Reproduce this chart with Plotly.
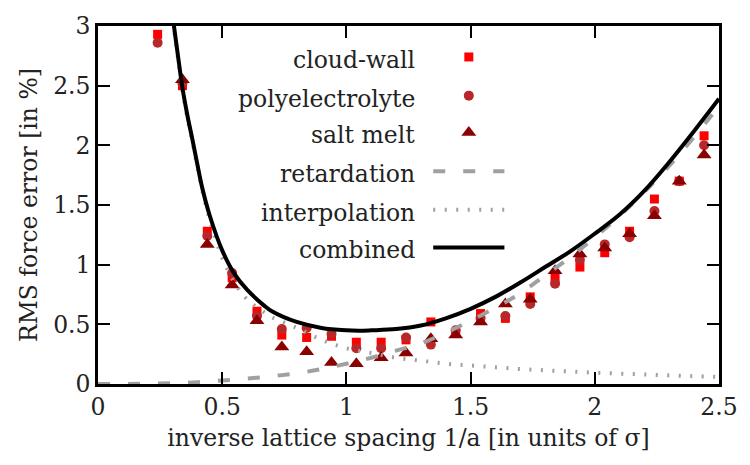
import plotly.graph_objects as go

# Simulated RMS force errors for three test systems
x_sim = [0.24, 0.34, 0.44, 0.54, 0.64, 0.74, 0.84, 0.94, 1.04, 1.14, 1.24, 1.34,
         1.44, 1.54, 1.64, 1.74, 1.84, 1.94, 2.04, 2.14, 2.24, 2.34, 2.44]
cloud_wall = [2.93, 2.50, 1.28, 0.89, 0.61, 0.41, 0.39, 0.40, 0.35, 0.35, 0.37, 0.52,
              0.43, 0.59, 0.55, 0.73, 0.89, 0.98, 1.10, 1.28, 1.55, 1.70, 2.08]
polyelectrolyte = [2.86, 2.52, 1.24, 0.93, 0.57, 0.46, 0.47, 0.42, 0.30, 0.30, 0.39, 0.33,
                   0.45, 0.55, 0.57, 0.67, 0.84, 1.04, 1.17, 1.23, 1.45, 1.70, 2.00]
salt_melt = [None, 2.55, 1.17, 0.83, 0.53, 0.31, 0.27, 0.18, 0.17, 0.22, 0.26, 0.38,
             0.41, 0.52, 0.67, 0.71, 0.95, 1.09, 1.14, 1.26, 1.41, 1.70, 1.92]

# Error estimates (sampled curves)
ret_x = [0.0, 0.1, 0.2, 0.3, 0.4, 0.5, 0.6, 0.7, 0.8, 0.9, 1.0, 1.1, 1.2, 1.3,
         1.4, 1.5, 1.6, 1.7, 1.8, 1.9, 2.0, 2.1, 2.2, 2.3, 2.4, 2.5]
ret_y = [0.0, 0.0, 0.002, 0.006, 0.015, 0.03, 0.045, 0.065, 0.09, 0.125, 0.17, 0.22,
         0.28, 0.34, 0.43, 0.53, 0.64, 0.76, 0.91, 1.06, 1.23, 1.41, 1.61, 1.83, 2.07, 2.33]

interp_x = [0.29, 0.30, 0.32, 0.34, 0.36, 0.38, 0.40, 0.42, 0.45, 0.50, 0.55, 0.60,
            0.67, 0.70, 0.80, 0.90, 1.00, 1.10, 1.20, 1.30, 1.40, 1.50, 1.60, 1.70,
            1.80, 1.90, 2.00, 2.10, 2.20, 2.30, 2.40, 2.50]
interp_y = [3.23, 3.07, 2.76, 2.46, 2.23, 2.03, 1.82, 1.62, 1.38, 1.06, 0.85, 0.71,
            0.60, 0.56, 0.47, 0.37, 0.30, 0.26, 0.22, 0.195, 0.17, 0.155, 0.14, 0.125,
            0.115, 0.105, 0.095, 0.087, 0.08, 0.072, 0.065, 0.06]

comb_x = [0.29, 0.30, 0.32, 0.34, 0.36, 0.38, 0.40, 0.42, 0.45, 0.50, 0.55, 0.60,
          0.67, 0.70, 0.80, 0.90, 1.00, 1.05, 1.10, 1.20, 1.30, 1.40, 1.50, 1.60,
          1.70, 1.80, 1.90, 2.00, 2.10, 2.20, 2.30, 2.40, 2.50]
comb_y = [3.25, 3.09, 2.78, 2.48, 2.25, 2.05, 1.84, 1.64, 1.41, 1.12, 0.92, 0.79,
          0.655, 0.61, 0.52, 0.47, 0.45, 0.447, 0.45, 0.46, 0.49, 0.55, 0.63, 0.73,
          0.85, 0.98, 1.11, 1.26, 1.42, 1.62, 1.86, 2.12, 2.39]

x_ticks = [0, 0.5, 1, 1.5, 2, 2.5]
y_ticks = [0, 0.5, 1, 1.5, 2, 2.5, 3]

FONT = "DejaVu Serif"
FSIZE = 23.5
TXT = "#222222"
RED = "#ff0000"
BROWN = "#b8282a"
DARKRED = "#8b0000"
GRAY = "#a0a0a0"

fig = go.Figure()

fig.add_trace(go.Scatter(x=x_sim, y=cloud_wall, mode="markers",
                         marker=dict(symbol="square", size=9, color=RED)))
fig.add_trace(go.Scatter(x=x_sim, y=polyelectrolyte, mode="markers",
                         marker=dict(symbol="circle", size=10, color=BROWN)))
fig.add_trace(go.Scatter(x=x_sim, y=salt_melt, mode="markers",
                         marker=dict(symbol="triangle-up", size=13, color=DARKRED)))
fig.add_trace(go.Scatter(x=ret_x, y=ret_y, mode="lines", line_shape="spline",
                         line=dict(color=GRAY, width=4, dash="12px,18px")))
fig.add_trace(go.Scatter(x=interp_x, y=interp_y, mode="lines", line_shape="spline",
                         line=dict(color=GRAY, width=4, dash="2px,9.5px")))
fig.add_trace(go.Scatter(x=comb_x, y=comb_y, mode="lines", line_shape="spline",
                         line=dict(color="black", width=4)))

# Legend key drawn in a pixel-like overlay frame (x to the right, y downward)
leg_labels = ["cloud-wall", "polyelectrolyte", "salt melt",
              "retardation", "interpolation", "combined"]
leg_rows = [46, 86, 124, 164, 204, 243]
text_right = 421
key_left, key_mid, key_right = 437, 473, 509

fig.add_trace(go.Scatter(x=[key_mid], y=[leg_rows[0]], xaxis="x2", yaxis="y2", mode="markers",
                         marker=dict(symbol="square", size=9, color=RED)))
fig.add_trace(go.Scatter(x=[key_mid], y=[leg_rows[1]], xaxis="x2", yaxis="y2", mode="markers",
                         marker=dict(symbol="circle", size=10, color=BROWN)))
fig.add_trace(go.Scatter(x=[key_mid], y=[leg_rows[2]], xaxis="x2", yaxis="y2", mode="markers",
                         marker=dict(symbol="triangle-up", size=13, color=DARKRED)))
fig.add_trace(go.Scatter(x=[key_left, key_right], y=[leg_rows[3]] * 2, xaxis="x2", yaxis="y2",
                         mode="lines", line=dict(color=GRAY, width=4, dash="12px,18px")))
fig.add_trace(go.Scatter(x=[key_left, key_right], y=[leg_rows[4]] * 2, xaxis="x2", yaxis="y2",
                         mode="lines", line=dict(color=GRAY, width=4, dash="2px,9.5px")))
fig.add_trace(go.Scatter(x=[key_left, key_right], y=[leg_rows[5]] * 2, xaxis="x2", yaxis="y2",
                         mode="lines", line=dict(color="black", width=4)))

for label, row in zip(leg_labels, leg_rows):
    fig.add_annotation(x=text_right, y=row + 3, xref="x2", yref="y2", text=label,
                       showarrow=False, xanchor="right", yanchor="middle",
                       font=dict(family=FONT, size=FSIZE, color=TXT))

axis_common = dict(showline=True, linecolor="black", linewidth=2.5, mirror="allticks",
                   ticks="inside", ticklen=12, tickwidth=2, tickcolor="black",
                   showgrid=False, zeroline=False,
                   tickfont=dict(family=FONT, size=FSIZE, color=TXT))

fig.update_layout(
    width=750, height=465,
    margin=dict(l=98, r=24, t=14, b=81),
    paper_bgcolor="white", plot_bgcolor="white",
    showlegend=False,
    xaxis=dict(range=[0, 2.5], tickvals=x_ticks,
               title=dict(text="inverse lattice spacing 1/a [in units of σ]",
                          font=dict(family=FONT, size=FSIZE, color=TXT), standoff=10),
               **axis_common),
    yaxis=dict(range=[0, 3], tickvals=y_ticks,
               title=dict(text="RMS force error [in %]",
                          font=dict(family=FONT, size=FSIZE, color=TXT), standoff=9),
               **axis_common),
    xaxis2=dict(overlaying="x", range=[98, 726], visible=False, anchor="y2"),
    yaxis2=dict(overlaying="y", range=[384, 14], visible=False, anchor="x2"),
)

fig.write_html("out.html")
